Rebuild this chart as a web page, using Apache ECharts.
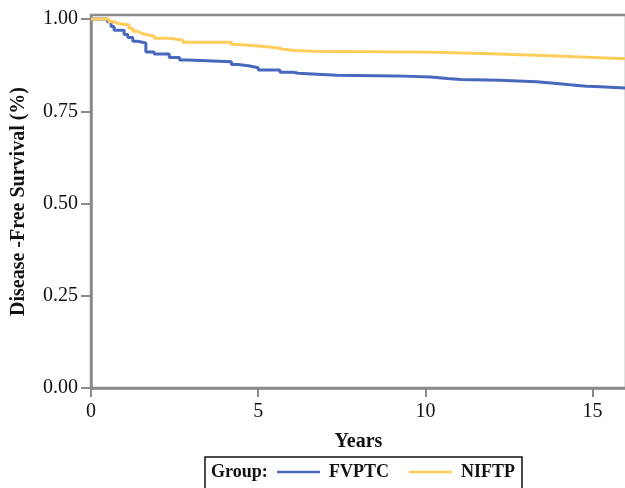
<!DOCTYPE html>
<html>
<head>
<meta charset="utf-8">
<script src="https://cdn.jsdelivr.net/npm/echarts@6/dist/echarts.min.js"></script>
<style>
  html, body { margin: 0; padding: 0; background: #fff; }
  #chart { width: 625px; height: 488px; }
</style>
</head>
<body>
<div id="chart"></div>
<script>
// Kaplan-Meier steps (years, survival)
const fvptcTimes = [0, 0.49, 0.6, 0.69, 0.99, 1.1, 1.25, 1.39, 1.64, 1.89, 2.34, 2.65, 2.9, 4.2, 4.4, 4.75, 5.0, 5.65, 6.05, 6.2, 7.35, 9.11, 10.16, 10.66, 11.06, 12.21, 13.32, 13.77, 14.32, 14.82, 15.07, 16]
const fvptcSurv = [1.0, 0.993, 0.98, 0.97, 0.958, 0.95, 0.94, 0.935, 0.911, 0.905, 0.896, 0.889, 0.884, 0.877, 0.873, 0.868, 0.862, 0.856, 0.853, 0.848, 0.846, 0.843, 0.839, 0.836, 0.834, 0.83, 0.827, 0.822, 0.818, 0.817, 0.813, 0.813]

const niftpTimes = [0, 0.54, 0.69, 0.8, 1.14, 1.25, 1.39, 1.5, 1.64, 1.89, 2.34, 2.75, 4.2, 4.4, 5.0, 5.55, 5.75, 6.1, 6.65, 10.31, 12.21, 13.92, 15.02, 16]
const niftpSurv = [1.0, 0.993, 0.988, 0.984, 0.975, 0.967, 0.962, 0.958, 0.954, 0.948, 0.943, 0.937, 0.931, 0.927, 0.922, 0.918, 0.915, 0.913, 0.91, 0.905, 0.9, 0.896, 0.892, 0.892]

const xTicks = [0, 5, 10, 15]
const yTicks = [0, 0.25, 0.5, 0.75, 1]

const serif = "'Liberation Serif', 'Times New Roman', serif"
const frame = '#8a8a8a'

function zip (ts, vs) {
  return ts.map((t, i) => [t, vs[i]])
}

const chart = echarts.init(document.getElementById('chart'))

const option = {
  animation: false,
  grid: {
    left: 91,
    right: -1,
    top: 15,
    bottom: 100,
    outerBoundsMode: 'none',
    containLabel: false,
    show: true,
    borderColor: frame,
    borderWidth: 2.5
  },
  xAxis: {
    type: 'value',
    min: 0,
    max: 16,
    name: 'Years',
    nameLocation: 'middle',
    nameGap: 44,
    nameTextStyle: { fontFamily: serif, fontSize: 20, fontWeight: 'bold', color: '#111' },
    axisLine: { onZero: false, lineStyle: { color: frame, width: 2.5 } },
    axisTick: { show: true, length: 9, customValues: xTicks, lineStyle: { color: frame, width: 2 } },
    axisLabel: { customValues: xTicks, margin: 14, fontFamily: serif, fontSize: 20, color: '#111' },
    splitLine: { show: false }
  },
  yAxis: {
    type: 'value',
    min: 0,
    max: 1.011,
    name: 'Disease -Free Survival (%)',
    nameLocation: 'middle',
    nameGap: 62,
    nameTextStyle: { fontFamily: serif, fontSize: 20, fontWeight: 'bold', color: '#111' },
    axisLine: { show: true, lineStyle: { color: frame, width: 2.5 } },
    axisTick: { show: true, length: 10, customValues: yTicks, lineStyle: { color: frame, width: 2 } },
    axisLabel: {
      customValues: yTicks,
      margin: 13,
      fontFamily: serif,
      fontSize: 20,
      color: '#111',
      formatter: (v) => v.toFixed(2)
    },
    splitLine: { show: false }
  },
  legend: {
    left: 205,
    top: 457,
    orient: 'horizontal',
    padding: [6, 7, 10, 72],
    borderColor: '#111',
    borderWidth: 1.5,
    icon: 'rect',
    itemWidth: 43,
    itemHeight: 2.5,
    itemGap: 20,
    textStyle: { fontFamily: serif, fontSize: 18, fontWeight: 'bold', color: '#111', padding: [0, 0, 0, 4] },
    data: ['FVPTC', 'NIFTP']
  },
  graphic: [{
    type: 'text',
    left: 211,
    top: 463,
    style: { text: 'Group:', font: "bold 18px 'Liberation Serif', serif", fill: '#111' }
  }],
  series: [
    {
      name: 'FVPTC',
      type: 'line',
      step: 'end',
      symbol: 'none',
      data: zip(fvptcTimes, fvptcSurv),
      lineStyle: { color: '#4868BD', width: 3 },
      itemStyle: { color: '#4868BD' }
    },
    {
      name: 'NIFTP',
      type: 'line',
      step: 'end',
      symbol: 'none',
      data: zip(niftpTimes, niftpSurv),
      lineStyle: { color: '#FFCD5C', width: 3 },
      itemStyle: { color: '#FFCD5C' }
    }
  ]
}

chart.setOption(option)
</script>
</body>
</html>
